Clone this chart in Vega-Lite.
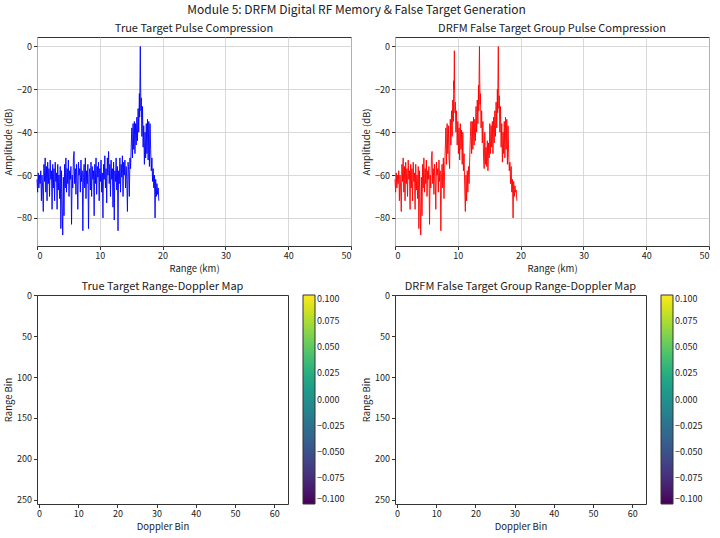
{
  "$schema": "https://vega.github.io/schema/vega-lite/v6.json",
  "title": {"text": "Module 5: DRFM Digital RF Memory & False Target Generation", "fontSize": 12, "anchor": "middle", "offset": 6, "frame": "bounds"},
  "padding": {"left": 3, "top": 3, "right": 5, "bottom": 5},
  "datasets": {
    "trueTarget": [
      {"r": 0.0, "a": -62}, {"r": 0.1, "a": -68}, {"r": 0.2, "a": -59}, {"r": 0.3, "a": -66}, {"r": 0.4, "a": -60},
      {"r": 0.5, "a": -64}, {"r": 0.6, "a": -58}, {"r": 0.7, "a": -72}, {"r": 0.8, "a": -60}, {"r": 0.9, "a": -66},
      {"r": 1.0, "a": -77}, {"r": 1.1, "a": -55}, {"r": 1.2, "a": -63}, {"r": 1.3, "a": -52}, {"r": 1.4, "a": -68},
      {"r": 1.5, "a": -56}, {"r": 1.6, "a": -72}, {"r": 1.7, "a": -54}, {"r": 1.8, "a": -64}, {"r": 1.9, "a": -57},
      {"r": 2.0, "a": -70}, {"r": 2.1, "a": -53}, {"r": 2.2, "a": -62}, {"r": 2.3, "a": -58}, {"r": 2.4, "a": -76},
      {"r": 2.5, "a": -55}, {"r": 2.6, "a": -66}, {"r": 2.7, "a": -57}, {"r": 2.8, "a": -72}, {"r": 2.9, "a": -54},
      {"r": 3.0, "a": -63}, {"r": 3.1, "a": -59}, {"r": 3.2, "a": -76}, {"r": 3.3, "a": -55}, {"r": 3.4, "a": -67},
      {"r": 3.5, "a": -60}, {"r": 3.6, "a": -71}, {"r": 3.7, "a": -56}, {"r": 3.8, "a": -85}, {"r": 3.9, "a": -58},
      {"r": 4.0, "a": -74}, {"r": 4.1, "a": -88}, {"r": 4.2, "a": -61}, {"r": 4.3, "a": -79}, {"r": 4.4, "a": -55},
      {"r": 4.5, "a": -66}, {"r": 4.6, "a": -52}, {"r": 4.7, "a": -68}, {"r": 4.8, "a": -57}, {"r": 4.9, "a": -64},
      {"r": 5.0, "a": -53}, {"r": 5.1, "a": -70}, {"r": 5.2, "a": -58}, {"r": 5.3, "a": -62}, {"r": 5.4, "a": -56},
      {"r": 5.5, "a": -83}, {"r": 5.6, "a": -60}, {"r": 5.7, "a": -66}, {"r": 5.8, "a": -52}, {"r": 5.9, "a": -49},
      {"r": 6.0, "a": -64}, {"r": 6.1, "a": -57}, {"r": 6.2, "a": -69}, {"r": 6.3, "a": -55}, {"r": 6.4, "a": -62},
      {"r": 6.5, "a": -76}, {"r": 6.6, "a": -54}, {"r": 6.7, "a": -60}, {"r": 6.8, "a": -57}, {"r": 6.9, "a": -68},
      {"r": 7.0, "a": -53}, {"r": 7.1, "a": -63}, {"r": 7.2, "a": -58}, {"r": 7.3, "a": -86}, {"r": 7.4, "a": -61},
      {"r": 7.5, "a": -55}, {"r": 7.6, "a": -66}, {"r": 7.7, "a": -52}, {"r": 7.8, "a": -71}, {"r": 7.9, "a": -58},
      {"r": 8.0, "a": -64}, {"r": 8.1, "a": -55}, {"r": 8.2, "a": -85}, {"r": 8.3, "a": -60}, {"r": 8.4, "a": -57},
      {"r": 8.5, "a": -67}, {"r": 8.6, "a": -54}, {"r": 8.7, "a": -70}, {"r": 8.8, "a": -56}, {"r": 8.9, "a": -62},
      {"r": 9.0, "a": -58}, {"r": 9.1, "a": -79}, {"r": 9.2, "a": -55}, {"r": 9.3, "a": -64}, {"r": 9.4, "a": -52},
      {"r": 9.5, "a": -69}, {"r": 9.6, "a": -56}, {"r": 9.7, "a": -61}, {"r": 9.8, "a": -54}, {"r": 9.9, "a": -72},
      {"r": 10.0, "a": -57}, {"r": 10.1, "a": -63}, {"r": 10.2, "a": -53}, {"r": 10.3, "a": -68}, {"r": 10.4, "a": -59},
      {"r": 10.5, "a": -80}, {"r": 10.6, "a": -55}, {"r": 10.7, "a": -62}, {"r": 10.8, "a": -51}, {"r": 10.9, "a": -66},
      {"r": 11.0, "a": -57}, {"r": 11.1, "a": -73}, {"r": 11.2, "a": -52}, {"r": 11.3, "a": -60}, {"r": 11.4, "a": -49},
      {"r": 11.5, "a": -64}, {"r": 11.6, "a": -55}, {"r": 11.7, "a": -70}, {"r": 11.8, "a": -53}, {"r": 11.9, "a": -62},
      {"r": 12.0, "a": -57}, {"r": 12.1, "a": -75}, {"r": 12.2, "a": -54}, {"r": 12.3, "a": -81}, {"r": 12.4, "a": -58},
      {"r": 12.5, "a": -63}, {"r": 12.6, "a": -52}, {"r": 12.7, "a": -67}, {"r": 12.8, "a": -56}, {"r": 12.9, "a": -86},
      {"r": 13.0, "a": -58}, {"r": 13.1, "a": -64}, {"r": 13.2, "a": -52}, {"r": 13.3, "a": -68}, {"r": 13.4, "a": -55},
      {"r": 13.5, "a": -61}, {"r": 13.6, "a": -51}, {"r": 13.7, "a": -70}, {"r": 13.8, "a": -54}, {"r": 13.9, "a": -60},
      {"r": 14.0, "a": -53}, {"r": 14.1, "a": -66}, {"r": 14.2, "a": -56}, {"r": 14.3, "a": -62}, {"r": 14.4, "a": -77},
      {"r": 14.5, "a": -54}, {"r": 14.6, "a": -58}, {"r": 14.7, "a": -70}, {"r": 14.8, "a": -52}, {"r": 14.9, "a": -57},
      {"r": 15.0, "a": -47}, {"r": 15.1, "a": -38}, {"r": 15.2, "a": -52}, {"r": 15.3, "a": -36}, {"r": 15.4, "a": -48},
      {"r": 15.5, "a": -35}, {"r": 15.6, "a": -50}, {"r": 15.7, "a": -36}, {"r": 15.8, "a": -46}, {"r": 15.9, "a": -33},
      {"r": 16.0, "a": -44}, {"r": 16.1, "a": -29}, {"r": 16.2, "a": -40}, {"r": 16.3, "a": -22}, {"r": 16.35, "a": -33},
      {"r": 16.4, "a": -14}, {"r": 16.45, "a": 0}, {"r": 16.5, "a": -18}, {"r": 16.55, "a": -30}, {"r": 16.6, "a": -24},
      {"r": 16.7, "a": -42}, {"r": 16.8, "a": -28}, {"r": 16.9, "a": -47}, {"r": 17.0, "a": -37}, {"r": 17.1, "a": -55},
      {"r": 17.2, "a": -40}, {"r": 17.3, "a": -52}, {"r": 17.4, "a": -36}, {"r": 17.5, "a": -50}, {"r": 17.6, "a": -34},
      {"r": 17.7, "a": -53}, {"r": 17.8, "a": -35}, {"r": 17.9, "a": -56}, {"r": 18.0, "a": -36}, {"r": 18.1, "a": -48},
      {"r": 18.2, "a": -58}, {"r": 18.3, "a": -52}, {"r": 18.4, "a": -63}, {"r": 18.5, "a": -57}, {"r": 18.6, "a": -66},
      {"r": 18.7, "a": -60}, {"r": 18.8, "a": -80}, {"r": 18.9, "a": -62}, {"r": 19.0, "a": -70}, {"r": 19.1, "a": -64},
      {"r": 19.2, "a": -69}, {"r": 19.3, "a": -66}, {"r": 19.4, "a": -72}
    ],
    "falseGroup": [
      {"r": 0.0, "a": -62}, {"r": 0.1, "a": -68}, {"r": 0.2, "a": -59}, {"r": 0.3, "a": -66}, {"r": 0.4, "a": -60},
      {"r": 0.5, "a": -64}, {"r": 0.6, "a": -58}, {"r": 0.7, "a": -72}, {"r": 0.8, "a": -60}, {"r": 0.9, "a": -66},
      {"r": 1.0, "a": -77}, {"r": 1.1, "a": -55}, {"r": 1.2, "a": -63}, {"r": 1.3, "a": -52}, {"r": 1.4, "a": -68},
      {"r": 1.5, "a": -56}, {"r": 1.6, "a": -72}, {"r": 1.7, "a": -54}, {"r": 1.8, "a": -64}, {"r": 1.9, "a": -57},
      {"r": 2.0, "a": -70}, {"r": 2.1, "a": -53}, {"r": 2.2, "a": -62}, {"r": 2.3, "a": -58}, {"r": 2.4, "a": -76},
      {"r": 2.5, "a": -55}, {"r": 2.6, "a": -66}, {"r": 2.7, "a": -57}, {"r": 2.8, "a": -72}, {"r": 2.9, "a": -54},
      {"r": 3.0, "a": -63}, {"r": 3.1, "a": -59}, {"r": 3.2, "a": -76}, {"r": 3.3, "a": -55}, {"r": 3.4, "a": -67},
      {"r": 3.5, "a": -60}, {"r": 3.6, "a": -71}, {"r": 3.7, "a": -56}, {"r": 3.8, "a": -85}, {"r": 3.9, "a": -58},
      {"r": 4.0, "a": -74}, {"r": 4.1, "a": -88}, {"r": 4.2, "a": -61}, {"r": 4.3, "a": -79}, {"r": 4.4, "a": -55},
      {"r": 4.5, "a": -66}, {"r": 4.6, "a": -52}, {"r": 4.7, "a": -68}, {"r": 4.8, "a": -57}, {"r": 4.9, "a": -64},
      {"r": 5.0, "a": -53}, {"r": 5.1, "a": -70}, {"r": 5.2, "a": -58}, {"r": 5.3, "a": -62}, {"r": 5.4, "a": -56},
      {"r": 5.5, "a": -83}, {"r": 5.6, "a": -60}, {"r": 5.7, "a": -66}, {"r": 5.8, "a": -52}, {"r": 5.9, "a": -49},
      {"r": 6.0, "a": -64}, {"r": 6.1, "a": -57}, {"r": 6.2, "a": -69}, {"r": 6.3, "a": -55}, {"r": 6.4, "a": -62},
      {"r": 6.5, "a": -76}, {"r": 6.6, "a": -54}, {"r": 6.7, "a": -60}, {"r": 6.8, "a": -57}, {"r": 6.9, "a": -68},
      {"r": 7.0, "a": -53}, {"r": 7.1, "a": -63}, {"r": 7.2, "a": -58}, {"r": 7.3, "a": -86}, {"r": 7.4, "a": -61},
      {"r": 7.5, "a": -55}, {"r": 7.6, "a": -66}, {"r": 7.7, "a": -52}, {"r": 7.8, "a": -71}, {"r": 7.9, "a": -58},
      {"r": 8.0, "a": -48}, {"r": 8.1, "a": -38}, {"r": 8.2, "a": -55}, {"r": 8.3, "a": -36}, {"r": 8.4, "a": -50},
      {"r": 8.5, "a": -37}, {"r": 8.6, "a": -52}, {"r": 8.7, "a": -57}, {"r": 8.8, "a": -34}, {"r": 8.9, "a": -46},
      {"r": 9.0, "a": -30}, {"r": 9.1, "a": -42}, {"r": 9.2, "a": -25}, {"r": 9.3, "a": -35}, {"r": 9.35, "a": -16},
      {"r": 9.4, "a": -20}, {"r": 9.45, "a": -2}, {"r": 9.5, "a": -22}, {"r": 9.55, "a": -31}, {"r": 9.6, "a": -26},
      {"r": 9.7, "a": -40}, {"r": 9.8, "a": -30}, {"r": 9.9, "a": -46}, {"r": 10.0, "a": -35}, {"r": 10.1, "a": -50},
      {"r": 10.2, "a": -38}, {"r": 10.3, "a": -53}, {"r": 10.4, "a": -36}, {"r": 10.5, "a": -48}, {"r": 10.6, "a": -39},
      {"r": 10.7, "a": -55}, {"r": 10.8, "a": -40}, {"r": 10.9, "a": -58}, {"r": 11.0, "a": -50}, {"r": 11.1, "a": -66},
      {"r": 11.2, "a": -77}, {"r": 11.3, "a": -60}, {"r": 11.4, "a": -72}, {"r": 11.5, "a": -58}, {"r": 11.6, "a": -68},
      {"r": 11.7, "a": -56}, {"r": 11.8, "a": -64}, {"r": 11.9, "a": -52}, {"r": 12.0, "a": -42}, {"r": 12.1, "a": -35},
      {"r": 12.2, "a": -50}, {"r": 12.3, "a": -35}, {"r": 12.4, "a": -48}, {"r": 12.5, "a": -33}, {"r": 12.6, "a": -46},
      {"r": 12.7, "a": -34}, {"r": 12.8, "a": -44}, {"r": 12.9, "a": -28}, {"r": 13.0, "a": -40}, {"r": 13.1, "a": -25},
      {"r": 13.2, "a": -36}, {"r": 13.3, "a": -18}, {"r": 13.35, "a": -30}, {"r": 13.4, "a": -12}, {"r": 13.45, "a": 0},
      {"r": 13.5, "a": -16}, {"r": 13.55, "a": -27}, {"r": 13.6, "a": -22}, {"r": 13.7, "a": -38}, {"r": 13.8, "a": -30},
      {"r": 13.9, "a": -45}, {"r": 14.0, "a": -35}, {"r": 14.1, "a": -52}, {"r": 14.2, "a": -57}, {"r": 14.3, "a": -40},
      {"r": 14.4, "a": -55}, {"r": 14.5, "a": -47}, {"r": 14.6, "a": -56}, {"r": 14.7, "a": -44}, {"r": 14.8, "a": -58},
      {"r": 14.9, "a": -45}, {"r": 15.0, "a": -52}, {"r": 15.1, "a": -36}, {"r": 15.2, "a": -50}, {"r": 15.3, "a": -37},
      {"r": 15.4, "a": -47}, {"r": 15.5, "a": -35}, {"r": 15.6, "a": -50}, {"r": 15.7, "a": -33}, {"r": 15.8, "a": -45},
      {"r": 15.9, "a": -30}, {"r": 16.0, "a": -42}, {"r": 16.1, "a": -26}, {"r": 16.2, "a": -38}, {"r": 16.3, "a": -20},
      {"r": 16.35, "a": -31}, {"r": 16.4, "a": -13}, {"r": 16.45, "a": 0}, {"r": 16.5, "a": -17}, {"r": 16.55, "a": -29},
      {"r": 16.6, "a": -23}, {"r": 16.7, "a": -40}, {"r": 16.8, "a": -28}, {"r": 16.9, "a": -47}, {"r": 17.0, "a": -36},
      {"r": 17.1, "a": -54}, {"r": 17.2, "a": -40}, {"r": 17.3, "a": -50}, {"r": 17.4, "a": -35}, {"r": 17.5, "a": -52},
      {"r": 17.6, "a": -33}, {"r": 17.7, "a": -48}, {"r": 17.8, "a": -34}, {"r": 17.9, "a": -55}, {"r": 18.0, "a": -37},
      {"r": 18.1, "a": -50}, {"r": 18.2, "a": -58}, {"r": 18.3, "a": -54}, {"r": 18.4, "a": -64}, {"r": 18.5, "a": -56},
      {"r": 18.6, "a": -68}, {"r": 18.7, "a": -62}, {"r": 18.8, "a": -80}, {"r": 18.9, "a": -63}, {"r": 19.0, "a": -70},
      {"r": 19.1, "a": -65}, {"r": 19.2, "a": -68}, {"r": 19.3, "a": -67}, {"r": 19.4, "a": -72}
    ],
    "emptyMap": [{"doppler": null, "rangeBin": null, "power": null}]
  },
  "columns": 2,
  "spacing": {"row": 49, "column": 44},
  "bounds": "flush",
  "resolve": {"scale": {"color": "independent"}},
  "concat": [
    {
      "title": "True Target Pulse Compression",
      "width": 314,
      "height": 209,
      "data": {"name": "trueTarget"},
      "mark": {"type": "line", "color": "#0000ff", "strokeWidth": 0.9},
      "encoding": {
        "x": {"field": "r", "type": "quantitative", "title": "Range (km)", "scale": {"domain": [0, 50], "nice": false}, "axis": {"values": [0, 10, 20, 30, 40, 50]}},
        "y": {"field": "a", "type": "quantitative", "title": "Amplitude (dB)", "scale": {"domain": [-93.1, 4.4], "nice": false, "zero": false}, "axis": {"values": [0, -20, -40, -60, -80]}}
      }
    },
    {
      "title": "DRFM False Target Group Pulse Compression",
      "width": 314,
      "height": 209,
      "data": {"name": "falseGroup"},
      "mark": {"type": "line", "color": "#ff0000", "strokeWidth": 0.9},
      "encoding": {
        "x": {"field": "r", "type": "quantitative", "title": "Range (km)", "scale": {"domain": [0, 50], "nice": false}, "axis": {"values": [0, 10, 20, 30, 40, 50]}},
        "y": {"field": "a", "type": "quantitative", "title": "Amplitude (dB)", "scale": {"domain": [-93.1, 4.4], "nice": false, "zero": false}, "axis": {"values": [0, -20, -40, -60, -80]}}
      }
    },
    {
      "title": {"text": "True Target Range-Doppler Map", "offset": -1},
      "width": 251,
      "height": 209,
      "data": {"name": "emptyMap"},
      "mark": {"type": "rect", "invalid": "filter"},
      "encoding": {
        "x": {"field": "doppler", "type": "quantitative", "title": "Doppler Bin", "scale": {"domain": [-0.5, 63.5], "nice": false, "zero": false}, "axis": {"values": [0, 10, 20, 30, 40, 50, 60], "grid": false}},
        "y": {"field": "rangeBin", "type": "quantitative", "title": "Range Bin", "scale": {"domain": [-0.5, 255.5], "reverse": true, "nice": false, "zero": false}, "axis": {"values": [0, 50, 100, 150, 200, 250], "grid": false}},
        "color": {"field": "power", "type": "quantitative", "scale": {"domain": [-0.1, 0.1], "scheme": "viridis"}, "legend": {"values": [-0.1, -0.075, -0.05, -0.025, 0, 0.025, 0.05, 0.075, 0.1], "format": ".3f"}}
      }
    },
    {
      "title": {"text": "DRFM False Target Group Range-Doppler Map", "offset": -1},
      "width": 251,
      "height": 209,
      "data": {"name": "emptyMap"},
      "mark": {"type": "rect", "invalid": "filter"},
      "encoding": {
        "x": {"field": "doppler", "type": "quantitative", "title": "Doppler Bin", "scale": {"domain": [-0.5, 63.5], "nice": false, "zero": false}, "axis": {"values": [0, 10, 20, 30, 40, 50, 60], "grid": false}},
        "y": {"field": "rangeBin", "type": "quantitative", "title": "Range Bin", "scale": {"domain": [-0.5, 255.5], "reverse": true, "nice": false, "zero": false}, "axis": {"values": [0, 50, 100, 150, 200, 250], "grid": false}},
        "color": {"field": "power", "type": "quantitative", "scale": {"domain": [-0.1, 0.1], "scheme": "viridis"}, "legend": {"values": [-0.1, -0.075, -0.05, -0.025, 0, 0.025, 0.05, 0.075, 0.1], "format": ".3f"}}
      }
    }
  ],
  "config": {
    "font": "Noto Sans CJK SC",
    "background": "white",
    "view": {"stroke": "#333333", "strokeWidth": 1},
    "title": {"fontSize": 11, "fontWeight": "normal", "color": "#222222", "offset": 3, "frame": "group"},
    "axis": {
      "domain": false,
      "tickColor": "#333333",
      "tickSize": 3.5,
      "labelFontSize": 9,
      "labelColor": "#222222",
      "labelPadding": 2,
      "titleFontSize": 9.5,
      "titleFontWeight": "normal",
      "titleColor": "#222222",
      "titlePadding": 3,
      "gridColor": "#cfcfcf",
      "gridWidth": 0.8
    },
    "legend": {
      "orient": "right",
      "title": null,
      "direction": "vertical",
      "gradientLength": 209,
      "gradientThickness": 12,
      "gradientStrokeColor": "#333333",
      "gradientStrokeWidth": 1,
      "offset": 15,
      "padding": 0,
      "labelFontSize": 9,
      "labelColor": "#222222",
      "labelOverlap": false,
      "labelBaseline": "middle",
      "labelOffset": 8
    }
  }
}
